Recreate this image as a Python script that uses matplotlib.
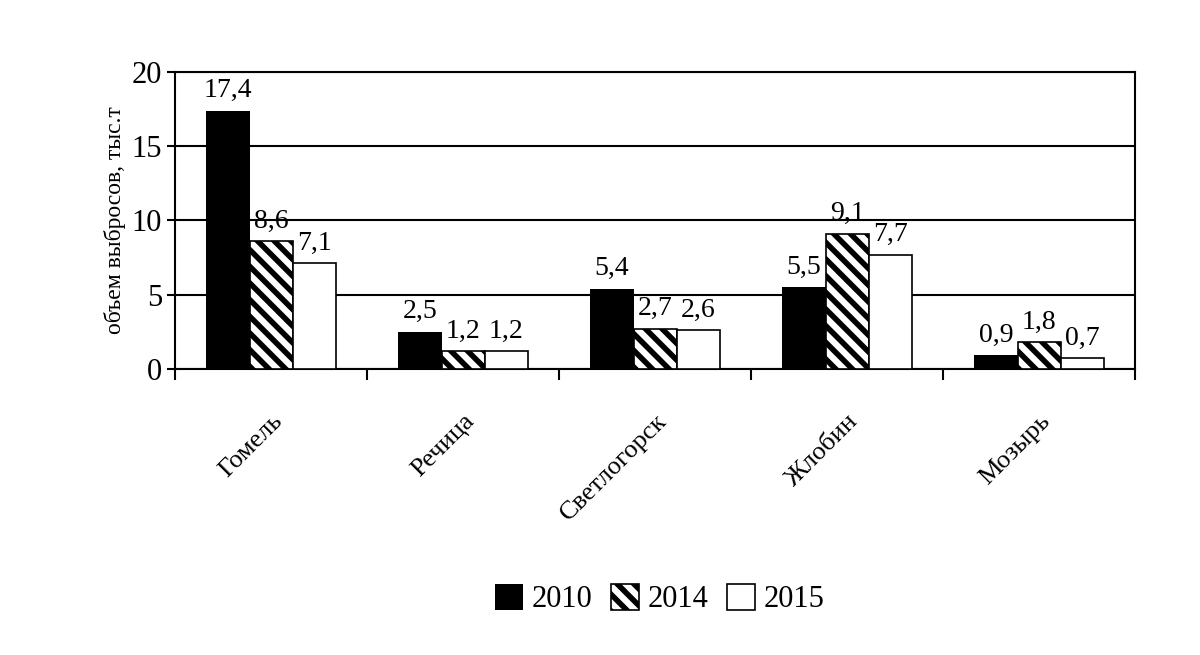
import numpy as np
import matplotlib.pyplot as plt

plt.rcParams['font.family'] = ['Liberation Serif', 'DejaVu Serif']
plt.rcParams['hatch.linewidth'] = 4

cities = ['Гомель', 'Речица', 'Светлогорск', 'Жлобин', 'Мозырь']
years = ['2010', '2014', '2015']
v2010 = [17.4, 2.5, 5.4, 5.5, 0.9]
v2014 = [8.6, 1.2, 2.7, 9.1, 1.8]
v2015 = [7.1, 1.2, 2.6, 7.7, 0.7]

fig = plt.figure(figsize=(12, 6.55), dpi=100)
ax = fig.add_axes([0.146, 0.437, 0.8, 0.453])

x = np.arange(len(cities))
w = 0.225
styles = [dict(color='black'), dict(facecolor='white', hatch='\\\\', edgecolor='black'),
          dict(facecolor='white', edgecolor='black')]
for i, (vals, st) in enumerate(zip([v2010, v2014, v2015], styles)):
    bars = ax.bar(x + (i - 1) * w, vals, w, linewidth=1.2, label=years[i], zorder=3, **st)
    if i == 1:
        for b in bars:
            b.set_edgecolor('black')
    for xi, v in zip(x + (i - 1) * w, vals):
        ax.text(xi, v + 0.5, f'{v:.1f}'.replace('.', ','), ha='center', va='bottom', fontsize=20)

ax.set_xlim(-0.5, 4.5)
ax.set_ylim(0, 20)
ax.set_yticks([0, 5, 10, 15, 20])
ax.tick_params(axis='y', labelsize=22, direction='out', length=6, width=1.5)
ax.yaxis.grid(True, color='black', linewidth=1.5, zorder=0)
ax.set_xticks(np.arange(-0.5, 5, 1))
ax.set_xticklabels([])
ax.set_xticks(x, minor=True)
ax.set_xticklabels(cities, minor=True, rotation=45, ha='right', rotation_mode='anchor', fontsize=19)
ax.tick_params(axis='x', which='major', length=8, width=1.5, direction='out')
ax.tick_params(axis='x', which='minor', length=0, pad=30)
for s in ax.spines.values():
    s.set_linewidth(1.5)
ax.set_ylabel('объем выбросов, тыс.т', fontsize=17)

fig.legend(loc='center', bbox_to_anchor=(0.55, 0.085), ncol=3, frameon=False, fontsize=22,
           handlelength=0.9, handleheight=0.9, columnspacing=0.6, handletextpad=0.3)
fig.savefig('out.png', dpi=100)
